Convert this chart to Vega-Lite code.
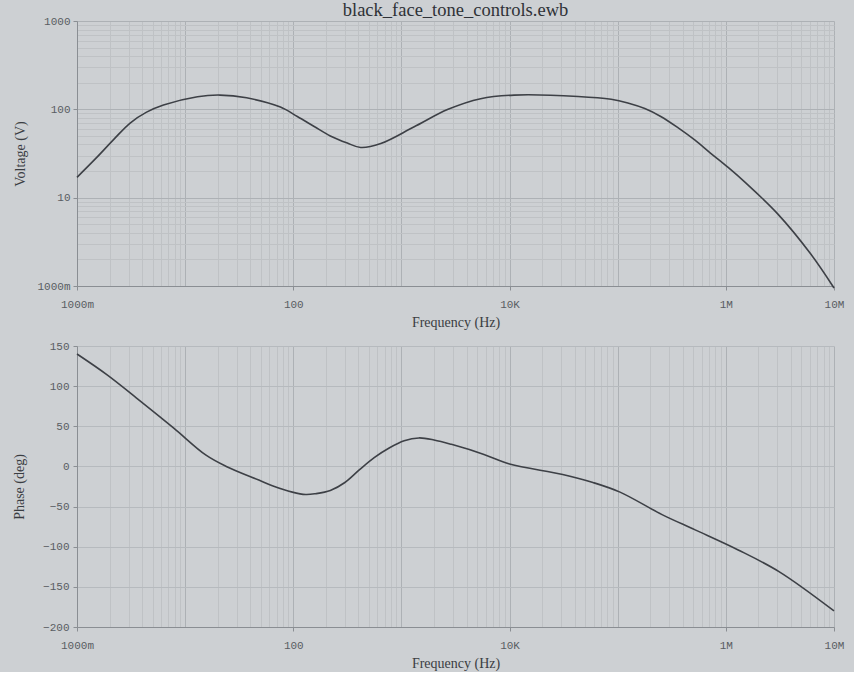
{
  "$schema": "https://vega.github.io/schema/vega-lite/v6.json",
  "autosize": {"type": "pad"},
  "padding": {"left": 12, "top": 0, "right": 10, "bottom": 2},
  "background": "#cdd0d3",
  "spacing": 60,
  "bounds": "flush",
  "config": {
    "view": {"stroke": null},
    "axis": {
      "labelFont": "Liberation Mono",
      "labelFontSize": 11,
      "labelFontWeight": "normal",
      "labelColor": "#595d62",
      "titleFont": "Liberation Serif",
      "titleFontSize": 14,
      "titleFontWeight": "normal",
      "titleColor": "#3a3d42",
      "domainColor": "#8a8e93",
      "tickColor": "#8a8e93",
      "labelOverlap": false,
      "labelFlush": false
    },
    "title": {"font": "Liberation Serif", "fontSize": 18.5, "fontWeight": "normal", "color": "#2f3237"}
  },
  "datasets": {
    "mag": [
      {"freq": 1, "volt": 17},
      {"freq": 1.5, "volt": 28},
      {"freq": 2.2, "volt": 46},
      {"freq": 3.1, "volt": 70},
      {"freq": 4.4, "volt": 93},
      {"freq": 6.3, "volt": 112},
      {"freq": 13, "volt": 139},
      {"freq": 21, "volt": 145},
      {"freq": 37, "volt": 135},
      {"freq": 76, "volt": 106},
      {"freq": 109, "volt": 83},
      {"freq": 156, "volt": 64},
      {"freq": 220, "volt": 50},
      {"freq": 316, "volt": 41.5},
      {"freq": 420, "volt": 37},
      {"freq": 645, "volt": 41},
      {"freq": 1300, "volt": 63},
      {"freq": 2700, "volt": 100},
      {"freq": 5400, "volt": 132},
      {"freq": 11000, "volt": 145},
      {"freq": 43000, "volt": 140},
      {"freq": 87000, "volt": 130},
      {"freq": 124000, "volt": 118},
      {"freq": 178000, "volt": 102},
      {"freq": 250000, "volt": 83},
      {"freq": 360000, "volt": 62},
      {"freq": 515000, "volt": 45},
      {"freq": 720000, "volt": 32},
      {"freq": 1050000, "volt": 22},
      {"freq": 1500000, "volt": 15},
      {"freq": 3000000, "volt": 6.6},
      {"freq": 6100000, "volt": 2.3},
      {"freq": 10000000, "volt": 0.95}
    ],
    "phase": [
      {"freq": 1, "deg": 140},
      {"freq": 1.9, "deg": 114},
      {"freq": 3.8, "deg": 82},
      {"freq": 7.8, "deg": 48},
      {"freq": 15.6, "deg": 14},
      {"freq": 24, "deg": 0},
      {"freq": 48, "deg": -17},
      {"freq": 64, "deg": -24},
      {"freq": 98, "deg": -32},
      {"freq": 130, "deg": -35},
      {"freq": 160, "deg": -34},
      {"freq": 220, "deg": -30},
      {"freq": 300, "deg": -20},
      {"freq": 410, "deg": -4},
      {"freq": 560, "deg": 11},
      {"freq": 770, "deg": 23},
      {"freq": 1060, "deg": 32},
      {"freq": 1450, "deg": 35.5},
      {"freq": 2000, "deg": 33},
      {"freq": 2900, "deg": 27.5},
      {"freq": 5800, "deg": 15},
      {"freq": 10000, "deg": 3},
      {"freq": 31000, "deg": -10},
      {"freq": 59000, "deg": -20},
      {"freq": 105000, "deg": -32},
      {"freq": 257000, "deg": -60},
      {"freq": 520000, "deg": -79},
      {"freq": 1300000, "deg": -104},
      {"freq": 3100000, "deg": -131},
      {"freq": 10000000, "deg": -180}
    ]
  },
  "vconcat": [
    {
      "title": {"text": "black_face_tone_controls.ewb", "anchor": "middle", "offset": -4},
      "width": 757,
      "height": 265,
      "data": {"name": "mag"},
      "mark": {"type": "line", "color": "#3d4046", "strokeWidth": 1.6, "interpolate": "catmull-rom"},
      "encoding": {
        "x": {
          "field": "freq", "type": "quantitative",
          "scale": {"type": "log", "domain": [1, 10000000], "nice": false},
          "axis": {
            "title": "Frequency (Hz)",
            "titlePadding": 6,
            "labelPadding": 8,
            "values": [1,2,3,4,5,6,7,8,9,10,20,30,40,50,60,70,80,90,100,200,300,400,500,600,700,800,900,1000,2000,3000,4000,5000,6000,7000,8000,9000,10000,20000,30000,40000,50000,60000,70000,80000,90000,100000,200000,300000,400000,500000,600000,700000,800000,900000,1000000,2000000,3000000,4000000,5000000,6000000,7000000,8000000,9000000,10000000],
            "labelExpr": "datum.value==1?'1000m':datum.value==100?'100':datum.value==10000?'10K':datum.value==1000000?'1M':datum.value==10000000?'10M':''",
            "tickSize": 4,
            "tickOpacity": {"condition": {"test": "indexof([1,100,10000,1000000,10000000], datum.value) >= 0", "value": 1}, "value": 0},
            "grid": true,
            "gridColor": {"condition": {"test": "indexof([1,10,100,1000,10000,100000,1000000,10000000], datum.value) >= 0", "value": "#adb1b5"}, "value": "#bfc2c5"},
            "gridWidth": 1
          }
        },
        "y": {
          "field": "volt", "type": "quantitative",
          "scale": {"type": "log", "domain": [1, 1000], "nice": false},
          "axis": {
            "title": "Voltage (V)",
            "titlePadding": 9,
            "labelPadding": 3,
            "values": [1,2,3,4,5,6,7,8,9,10,20,30,40,50,60,70,80,90,100,200,300,400,500,600,700,800,900,1000],
            "labelExpr": "datum.value==1?'1000m':datum.value==10?'10':datum.value==100?'100':datum.value==1000?'1000':''",
            "tickSize": 4,
            "tickOpacity": {"condition": {"test": "indexof([1,10,100,1000], datum.value) >= 0", "value": 1}, "value": 0},
            "grid": true,
            "gridColor": {"condition": {"test": "indexof([1,10,100,1000], datum.value) >= 0", "value": "#adb1b5"}, "value": "#bfc2c5"},
            "gridWidth": 1
          }
        }
      }
    },
    {
      "width": 757,
      "height": 281,
      "data": {"name": "phase"},
      "mark": {"type": "line", "color": "#3d4046", "strokeWidth": 1.6, "interpolate": "catmull-rom"},
      "encoding": {
        "x": {
          "field": "freq", "type": "quantitative",
          "scale": {"type": "log", "domain": [1, 10000000], "nice": false},
          "axis": {
            "title": "Frequency (Hz)",
            "titlePadding": 6,
            "labelPadding": 8,
            "values": [1,2,3,4,5,6,7,8,9,10,20,30,40,50,60,70,80,90,100,200,300,400,500,600,700,800,900,1000,2000,3000,4000,5000,6000,7000,8000,9000,10000,20000,30000,40000,50000,60000,70000,80000,90000,100000,200000,300000,400000,500000,600000,700000,800000,900000,1000000,2000000,3000000,4000000,5000000,6000000,7000000,8000000,9000000,10000000],
            "labelExpr": "datum.value==1?'1000m':datum.value==100?'100':datum.value==10000?'10K':datum.value==1000000?'1M':datum.value==10000000?'10M':''",
            "tickSize": 4,
            "tickOpacity": {"condition": {"test": "indexof([1,100,10000,1000000,10000000], datum.value) >= 0", "value": 1}, "value": 0},
            "grid": true,
            "gridColor": {"condition": {"test": "indexof([1,10,100,1000,10000,100000,1000000,10000000], datum.value) >= 0", "value": "#adb1b5"}, "value": "#bfc2c5"},
            "gridWidth": 1
          }
        },
        "y": {
          "field": "deg", "type": "quantitative",
          "scale": {"domain": [-200, 150], "nice": false},
          "axis": {
            "title": "Phase (deg)",
            "titlePadding": 16,
            "labelPadding": 4,
            "values": [-200, -150, -100, -50, 0, 50, 100, 150],
            "tickSize": 4,
            "grid": true,
            "gridColor": "#b6babe",
            "gridWidth": 1
          }
        }
      }
    }
  ]
}
